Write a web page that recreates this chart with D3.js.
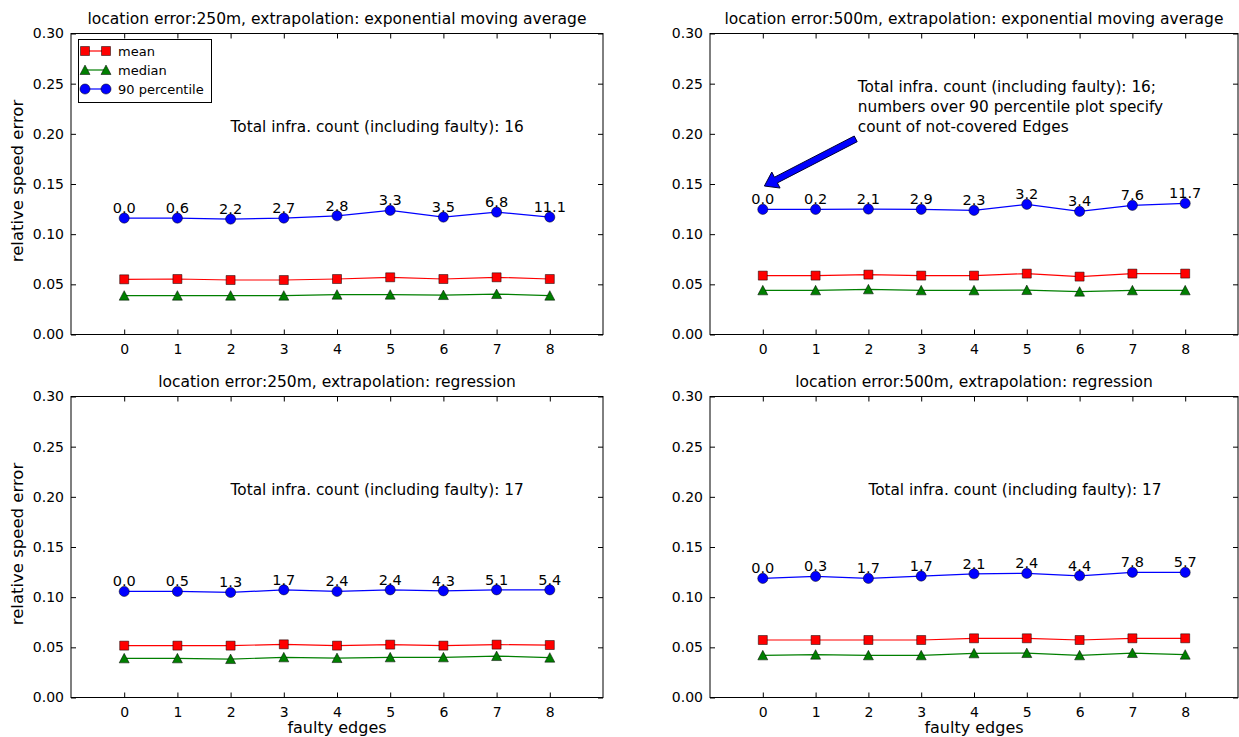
<!DOCTYPE html>
<html>
<head>
<meta charset="utf-8">
<script src="https://cdn.jsdelivr.net/npm/d3@7"></script>
<style>
  body { margin: 0; background: #fff; }
  svg { display: block; }
  text { font-family: "DejaVu Sans", sans-serif; fill: #000; }
</style>
</head>
<body>
<svg id="chart" width="1239" height="737"></svg>
<script>
// ---- data ----
const faultyEdges = [0, 1, 2, 3, 4, 5, 6, 7, 8];
const yTickValues = [0, 0.05, 0.10, 0.15, 0.20, 0.25, 0.30];
const seriesNames = ["mean", "median", "90 percentile"];

// location error 250m, exponential moving average
const ema250Mean   = [0.0550, 0.0553, 0.0543, 0.0543, 0.0553, 0.0570, 0.0553, 0.0570, 0.0553];
const ema250Median = [0.0387, 0.0387, 0.0387, 0.0387, 0.0397, 0.0397, 0.0393, 0.0403, 0.0387];
const ema250P90    = [0.1160, 0.1160, 0.1150, 0.1160, 0.1183, 0.1237, 0.1170, 0.1220, 0.1170];
const ema250Uncovered = ["0.0", "0.6", "2.2", "2.7", "2.8", "3.3", "3.5", "6.8", "11.1"];

// location error 500m, exponential moving average
const ema500Mean   = [0.0587, 0.0587, 0.0597, 0.0587, 0.0587, 0.0607, 0.0577, 0.0607, 0.0607];
const ema500Median = [0.0440, 0.0440, 0.0450, 0.0440, 0.0440, 0.0443, 0.0427, 0.0440, 0.0440];
const ema500P90    = [0.1247, 0.1247, 0.1250, 0.1247, 0.1237, 0.1297, 0.1227, 0.1287, 0.1307];
const ema500Uncovered = ["0.0", "0.2", "2.1", "2.9", "2.3", "3.2", "3.4", "7.6", "11.7"];

// location error 250m, regression
const reg250Mean   = [0.0517, 0.0517, 0.0517, 0.0530, 0.0517, 0.0527, 0.0517, 0.0527, 0.0523];
const reg250Median = [0.0390, 0.0390, 0.0383, 0.0400, 0.0393, 0.0400, 0.0400, 0.0413, 0.0397];
const reg250P90    = [0.1057, 0.1057, 0.1047, 0.1073, 0.1057, 0.1073, 0.1063, 0.1073, 0.1073];
const reg250Uncovered = ["0.0", "0.5", "1.3", "1.7", "2.4", "2.4", "4.3", "5.1", "5.4"];

// location error 500m, regression
const reg500Mean   = [0.0573, 0.0573, 0.0573, 0.0573, 0.0590, 0.0590, 0.0573, 0.0590, 0.0590];
const reg500Median = [0.0420, 0.0427, 0.0420, 0.0420, 0.0440, 0.0443, 0.0420, 0.0443, 0.0427];
const reg500P90    = [0.1187, 0.1207, 0.1187, 0.1210, 0.1233, 0.1237, 0.1213, 0.1247, 0.1247];
const reg500Uncovered = ["0.0", "0.3", "1.7", "1.7", "2.1", "2.4", "4.4", "7.8", "5.7"];

const titles = [
  "location error:250m, extrapolation: exponential moving average",
  "location error:500m, extrapolation: exponential moving average",
  "location error:250m, extrapolation: regression",
  "location error:500m, extrapolation: regression"
];
const notes = [
  ["Total infra. count (including faulty): 16"],
  ["Total infra. count (including faulty): 16;",
   "numbers over 90 percentile plot specify",
   "count of not-covered Edges"],
  ["Total infra. count (including faulty): 17"],
  ["Total infra. count (including faulty): 17"]
];

// ---- styles ----
const colors = { mean: "#ff0000", median: "#007f00", p90: "#0000ff" };

const svg = d3.select("#chart");
svg.append("rect").attr("width", 1239).attr("height", 737).attr("fill", "#fff");

const panels = [
  { box: [71, 603, 33.5, 334.5], mean: ema250Mean, median: ema250Median, p90: ema250P90, counts: ema250Uncovered, title: titles[0], note: notes[0], noteAt: [2, 0.2], legend: true, ylabel: true, xlabel: false },
  { box: [710, 1238, 33.5, 334.5], mean: ema500Mean, median: ema500Median, p90: ema500P90, counts: ema500Uncovered, title: titles[1], note: notes[1], noteAt: [1.8, 0.2], arrow: { from: [1.76, 0.195], to: [0.03, 0.148] }, legend: false, ylabel: false, xlabel: false },
  { box: [71, 603, 396.5, 697.5], mean: reg250Mean, median: reg250Median, p90: reg250P90, counts: reg250Uncovered, title: titles[2], note: notes[2], noteAt: [2, 0.2], legend: false, ylabel: true, xlabel: true },
  { box: [710, 1238, 396.5, 697.5], mean: reg500Mean, median: reg500Median, p90: reg500P90, counts: reg500Uncovered, title: titles[3], note: notes[3], noteAt: [2, 0.2], legend: false, ylabel: false, xlabel: true }
];

// marker shapes
const markerPath = {
  square: "M-4.5,-4.5H4.5V4.5H-4.5Z",
  triangle: "M0,-5L5,4.5L-5,4.5Z",
  circle: d3.symbol(d3.symbolCircle, 80)()
};

function drawMarkers(g, pts, shape, fill) {
  g.selectAll(null).data(pts).join("path")
    .attr("d", markerPath[shape])
    .attr("transform", d => `translate(${d[0]},${d[1]})`)
    .attr("fill", fill)
    .attr("stroke", "#000")
    .attr("stroke-width", 0.5);
}

panels.forEach(p => {
  const [x0, x1, y0, y1] = p.box;
  const x = d3.scaleLinear().domain([-1, 9]).range([x0, x1]);
  const y = d3.scaleLinear().domain([0, 0.30]).range([y1, y0]);
  const g = svg.append("g");

  // plot frame
  g.append("rect").attr("x", x0).attr("y", y0).attr("width", x1 - x0).attr("height", y1 - y0)
    .attr("fill", "none").attr("stroke", "#000").attr("stroke-width", 1);

  // axes with inward ticks
  const tickFont = g => g.selectAll("text").attr("font-size", 14).attr("font-family", "DejaVu Sans");
  const xb = g.append("g").attr("transform", `translate(0,${y1})`)
    .call(d3.axisBottom(x).tickValues(faultyEdges).tickFormat(d3.format("d")).tickSizeInner(-5).tickSizeOuter(0).tickPadding(10));
  const xt = g.append("g").attr("transform", `translate(0,${y0})`)
    .call(d3.axisTop(x).tickValues(faultyEdges).tickFormat("").tickSizeInner(-5).tickSizeOuter(0));
  const yl = g.append("g").attr("transform", `translate(${x0},0)`)
    .call(d3.axisLeft(y).tickValues(yTickValues).tickFormat(d3.format(".2f")).tickSizeInner(-5).tickSizeOuter(0).tickPadding(7));
  const yr = g.append("g").attr("transform", `translate(${x1},0)`)
    .call(d3.axisRight(y).tickValues(yTickValues).tickFormat("").tickSizeInner(-5).tickSizeOuter(0));
  [xb, xt, yl, yr].forEach(a => {
    a.select(".domain").remove();
    a.selectAll("line").attr("stroke", "#000");
    a.call(tickFont);
  });

  // title
  g.append("text").attr("x", (x0 + x1) / 2).attr("y", y0 - 10)
    .attr("text-anchor", "middle").attr("font-size", 15.5).text(p.title);

  // series lines and markers
  const line = d3.line().x((d, i) => x(faultyEdges[i])).y(d => y(d));
  const series = [
    { vals: p.mean, color: colors.mean, shape: "square" },
    { vals: p.median, color: colors.median, shape: "triangle" },
    { vals: p.p90, color: colors.p90, shape: "circle" }
  ];
  series.forEach(s => {
    g.append("path").attr("d", line(s.vals)).attr("fill", "none")
      .attr("stroke", s.color).attr("stroke-width", 1.2);
  });
  series.forEach(s => {
    drawMarkers(g, s.vals.map((v, i) => [x(faultyEdges[i]), y(v)]), s.shape, s.color);
  });

  // not-covered edge counts above the 90 percentile points
  g.selectAll(null).data(p.counts).join("text")
    .attr("x", (d, i) => x(faultyEdges[i]))
    .attr("y", (d, i) => y(p.p90[i] + 0.005))
    .attr("text-anchor", "middle").attr("font-size", 14.5)
    .text(d => d);

  // annotation text (bottom-aligned at the anchor point)
  const lh = 20;
  const nt = g.append("text").attr("font-size", 15.3);
  p.note.forEach((ln, i) => {
    nt.append("tspan").attr("x", x(p.noteAt[0]))
      .attr("y", y(p.noteAt[1]) - 2 - (p.note.length - 1 - i) * lh).text(ln);
  });

  // arrow pointing at the first label
  if (p.arrow) {
    const S = [x(p.arrow.from[0]), y(p.arrow.from[1])];
    const T = [x(p.arrow.to[0]), y(p.arrow.to[1])];
    const dx = T[0] - S[0], dy = T[1] - S[1], L = Math.hypot(dx, dy);
    const u = [dx / L, dy / L], n = [-u[1], u[0]];
    const hl = 13, w = 3.2, hw = 9;
    const B = [T[0] - u[0] * hl, T[1] - u[1] * hl];
    const pts = [
      [S[0] + n[0] * w, S[1] + n[1] * w],
      [B[0] + n[0] * w, B[1] + n[1] * w],
      [B[0] + n[0] * hw, B[1] + n[1] * hw],
      T,
      [B[0] - n[0] * hw, B[1] - n[1] * hw],
      [B[0] - n[0] * w, B[1] - n[1] * w],
      [S[0] - n[0] * w, S[1] - n[1] * w]
    ];
    g.append("path").attr("d", "M" + pts.map(q => q.join(",")).join("L") + "Z")
      .attr("fill", "#0000ff").attr("stroke", "#000033").attr("stroke-width", 1);
  }

  // axis labels
  if (p.ylabel) {
    g.append("text").attr("transform", `translate(23,${(y0 + y1) / 2 - 3}) rotate(-90)`)
      .attr("text-anchor", "middle").attr("font-size", 16.5).text("relative speed error");
  }
  if (p.xlabel) {
    g.append("text").attr("x", (x0 + x1) / 2).attr("y", 733)
      .attr("text-anchor", "middle").attr("font-size", 16).text("faulty edges");
  }

  // legend
  if (p.legend) {
    const lg = g.append("g");
    lg.append("rect").attr("x", 78.5).attr("y", 39.5).attr("width", 133).attr("height", 63)
      .attr("fill", "#fff").attr("stroke", "#000").attr("stroke-width", 1);
    const rows = [
      { name: seriesNames[0], color: colors.mean, shape: "square" },
      { name: seriesNames[1], color: colors.median, shape: "triangle" },
      { name: seriesNames[2], color: colors.p90, shape: "circle" }
    ];
    rows.forEach((r, i) => {
      const ry = 51 + i * 19;
      lg.append("line").attr("x1", 85).attr("x2", 106).attr("y1", ry).attr("y2", ry)
        .attr("stroke", r.color).attr("stroke-width", 1.2);
      drawMarkers(lg, [[85, ry], [106, ry]], r.shape, r.color);
      lg.append("text").attr("x", 118).attr("y", ry + 4.5).attr("font-size", 13).text(r.name);
    });
  }
});
</script>
</body>
</html>
